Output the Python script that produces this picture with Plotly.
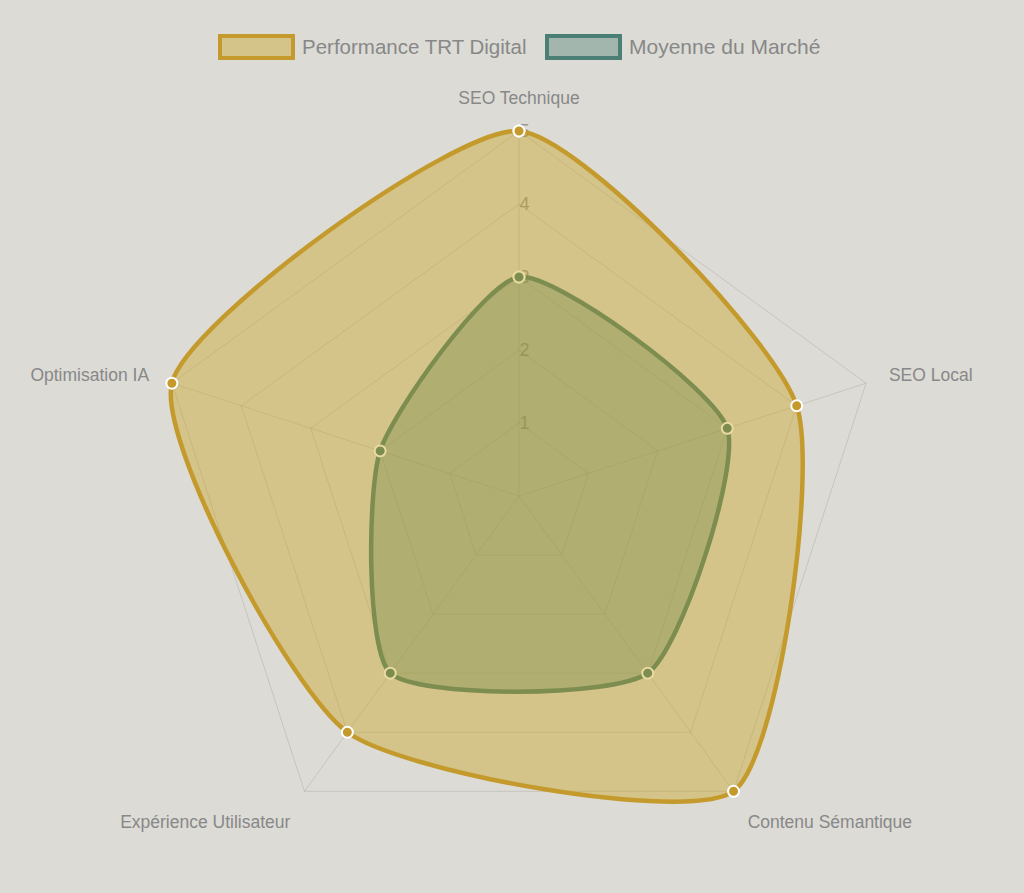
import plotly.graph_objects as go

categories = ["SEO Technique", "SEO Local", "Contenu Sémantique", "Expérience Utilisateur", "Optimisation IA"]
trt_values = [5, 4, 5, 4, 5]
market_values = [3, 3, 3, 3, 2]
series_names = ["Performance TRT Digital", "Moyenne du Marché"]
radial_ticks = [1, 2, 3, 4, 5]
radial_max = 5

GOLD = "rgb(196,154,44)"
GOLD_FILL = "rgba(200,162,22,0.4)"
TEAL = "rgb(75,127,117)"
TEAL_FILL = "rgba(75,127,117,0.4)"
BG = "#dcdbd6"
FONT = "Liberation Sans, Arial, sans-serif"
GRID = "rgba(0,0,0,0.1)"
SMOOTH = 0.6


def closed(v):
    return list(v) + [v[0]]


fig = go.Figure()
# grid subplot (carries the categories for the polygon grid)
fig.add_trace(go.Scatterpolar(
    r=trt_values, theta=categories, subplot="polar", mode="markers",
    marker=dict(size=1, opacity=0), showlegend=False, hoverinfo="skip",
))
# data subplot (same scale, larger range so the curves are not clipped)
fig.add_trace(go.Scatterpolar(
    r=closed(market_values), theta=closed(categories), name=series_names[1], subplot="polar2",
    mode="lines+markers", fill="toself", fillcolor=TEAL_FILL,
    line=dict(color=TEAL, width=4.5, shape="spline", smoothing=SMOOTH),
    marker=dict(size=11, color=TEAL, line=dict(color="white", width=2)),
    showlegend=False, hoverinfo="skip",
))
fig.add_trace(go.Scatterpolar(
    r=closed(trt_values), theta=closed(categories), name=series_names[0], subplot="polar2",
    mode="lines+markers", fill="toself", fillcolor=GOLD_FILL,
    line=dict(color=GOLD, width=4.5, shape="spline", smoothing=SMOOTH),
    marker=dict(size=11, color=GOLD, line=dict(color="white", width=2)),
    showlegend=False, hoverinfo="skip",
))

W, H = 1024, 893
cx, cy, R = 519, 496, 365
k = 5.4
R2 = R * k / radial_max


def dom(rad):
    return dict(x=[(cx - rad) / W, (cx + rad) / W], y=[1 - (cy + rad) / H, 1 - (cy - rad) / H])


fig.update_layout(
    width=W, height=H,
    paper_bgcolor=BG, plot_bgcolor=BG,
    margin=dict(l=0, r=0, t=0, b=0),
    font=dict(family=FONT, color="#888888"),
    polar=dict(
        bgcolor=BG,
        gridshape="linear",
        domain=dom(R),
        radialaxis=dict(
            range=[0, radial_max], tickvals=radial_ticks, angle=90, tickangle=90,
            showline=False, gridcolor=GRID, gridwidth=1, ticks="",
            tickfont=dict(size=18, color="#9a9890", family=FONT),
        ),
        angularaxis=dict(
            direction="clockwise", rotation=90,
            ticks="outside", ticklen=20, tickcolor="rgba(0,0,0,0)",
            showline=True, linecolor=GRID, linewidth=1,
            gridcolor=GRID, gridwidth=1,
            tickfont=dict(size=17.5, color="#888888", family=FONT),
        ),
    ),
    polar2=dict(
        bgcolor="rgba(0,0,0,0)",
        domain=dom(R2),
        radialaxis=dict(range=[0, k], visible=False),
        angularaxis=dict(
            direction="clockwise", rotation=90, showgrid=False, showline=False,
            showticklabels=False, ticks="",
        ),
    ),
)

# legend drawn as boxes + labels (Chart.js style)
legend_items = [
    (series_names[0], GOLD, "rgb(212,196,137)", 220, 293, 20.5),
    (series_names[1], TEAL, "rgb(162,182,173)", 547, 620, 21),
]
for name, border, fillc, x0, x1, fs in legend_items:
    fig.add_shape(type="rect", xref="paper", yref="paper",
                  x0=x0 / W, x1=x1 / W, y0=1 - 58 / H, y1=1 - 36 / H,
                  line=dict(color=border, width=4), fillcolor=fillc)
    fig.add_annotation(text=name, xref="paper", yref="paper", x=(x1 + 7) / W, y=1 - 47 / H,
                       xanchor="left", yanchor="middle", showarrow=False,
                       font=dict(size=fs, color="#888888", family=FONT))

fig.write_html("out.html")
